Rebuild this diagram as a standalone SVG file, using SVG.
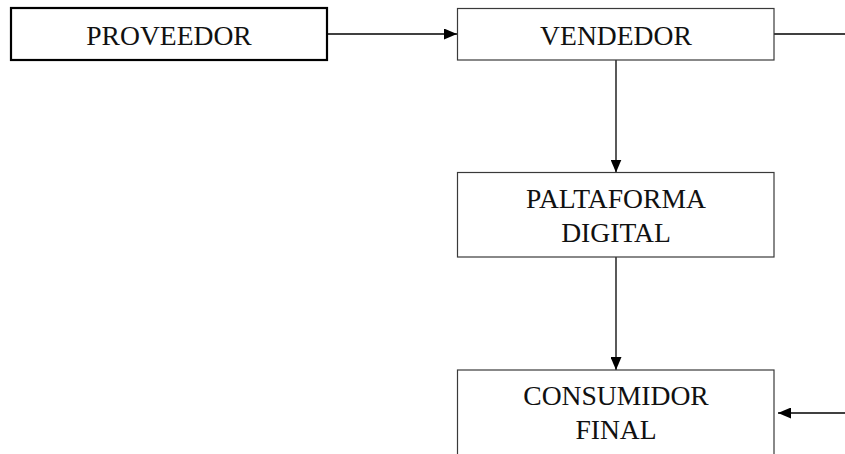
<svg xmlns="http://www.w3.org/2000/svg" width="845" height="454" viewBox="0 0 845 454">
<style>
.box{fill:#fff;stroke:#3a3a3a;stroke-width:1.2}
.thick{stroke:#000;stroke-width:2.2}
.lbl{font-family:"Liberation Serif","Times New Roman",serif;font-size:27.6px;fill:#111;text-anchor:middle}
.ln{stroke:#000;stroke-width:1.3;fill:none}
</style>
<defs>
<marker id="ah" markerWidth="13" markerHeight="11" refX="13" refY="5.5" orient="auto" markerUnits="userSpaceOnUse">
<path d="M0,0 L13,5.5 L0,11 Z" fill="#000"/>
</marker>
</defs>
<rect width="845" height="454" fill="#fff"/>
<g id="connectors">
<line class="ln" x1="327" y1="34" x2="457" y2="34" marker-end="url(#ah)"/>
<line class="ln" x1="774" y1="34" x2="845" y2="34"/>
<line class="ln" x1="616" y1="60" x2="616" y2="172.5" marker-end="url(#ah)"/>
<line class="ln" x1="616" y1="257" x2="616" y2="370" marker-end="url(#ah)"/>
<line class="ln" x1="845" y1="413" x2="778" y2="413" marker-end="url(#ah)"/>
</g>
<g id="proveedor">
<rect class="box thick" x="11" y="8" width="316" height="52"/>
<text class="lbl" x="169" y="45">PROVEEDOR</text>
</g>
<g id="vendedor">
<rect class="box" x="457.5" y="8.5" width="316.5" height="51.5"/>
<text class="lbl" x="616" y="45">VENDEDOR</text>
</g>
<g id="plataforma">
<rect class="box" x="457.5" y="172.5" width="316.5" height="84.5"/>
<text class="lbl" x="616" y="208">PALTAFORMA</text>
<text class="lbl" x="616" y="241.5">DIGITAL</text>
</g>
<g id="consumidor">
<rect class="box" x="457.5" y="370" width="316.5" height="100"/>
<text class="lbl" x="616" y="405">CONSUMIDOR</text>
<text class="lbl" x="616" y="439">FINAL</text>
</g>
</svg>
